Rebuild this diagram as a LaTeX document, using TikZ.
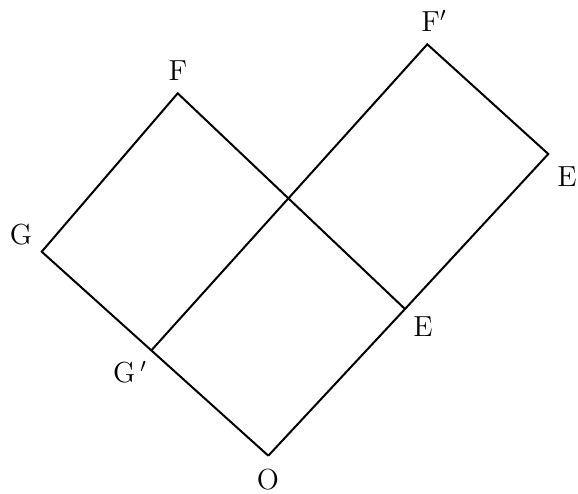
\documentclass[tikz,border=0pt]{standalone}
\usepackage{tikz}
\usetikzlibrary{positioning}

\begin{document}
\begin{tikzpicture}[
  x=0.5pt, y=-0.5pt,
  every node/.style={font=\fontsize{14.5}{17}\selectfont, inner sep=1pt},
  edge/.style={draw, line width=1pt, line join=miter},
  lbl/.style={anchor=center}
]
  \useasboundingbox (0,0) rectangle (578,493);

  \coordinate (O) at (268.3,455.7);
  \coordinate (E) at (405,309);
  \coordinate (F) at (177.7,93.3);
  \coordinate (G) at (41.7,251.7);
  \coordinate (Gp) at (151.7,350);
  \coordinate (Fp) at (427.3,44.3);
  \coordinate (Ep) at (548.3,154);

  \draw[edge] (O) -- (E) -- (F) -- (G) -- (O);
  \draw[edge] (Gp) -- (Fp) -- (Ep) -- (E);

  \node[lbl] (lO) at (268,480) {O};
  \node[lbl] (lE) at (423,327) {E};
  \node[lbl] (lF) at (178,71) {F};
  \node[lbl] (lG) at (21,235) {G};
  \node[lbl] (lGp) at (130,372) {G$\,'$};
  \node[lbl] (lFp) at (434,21) {F$'$};
  \node[lbl] (lEp) at (567,177) {E};
\end{tikzpicture}
\end{document}
